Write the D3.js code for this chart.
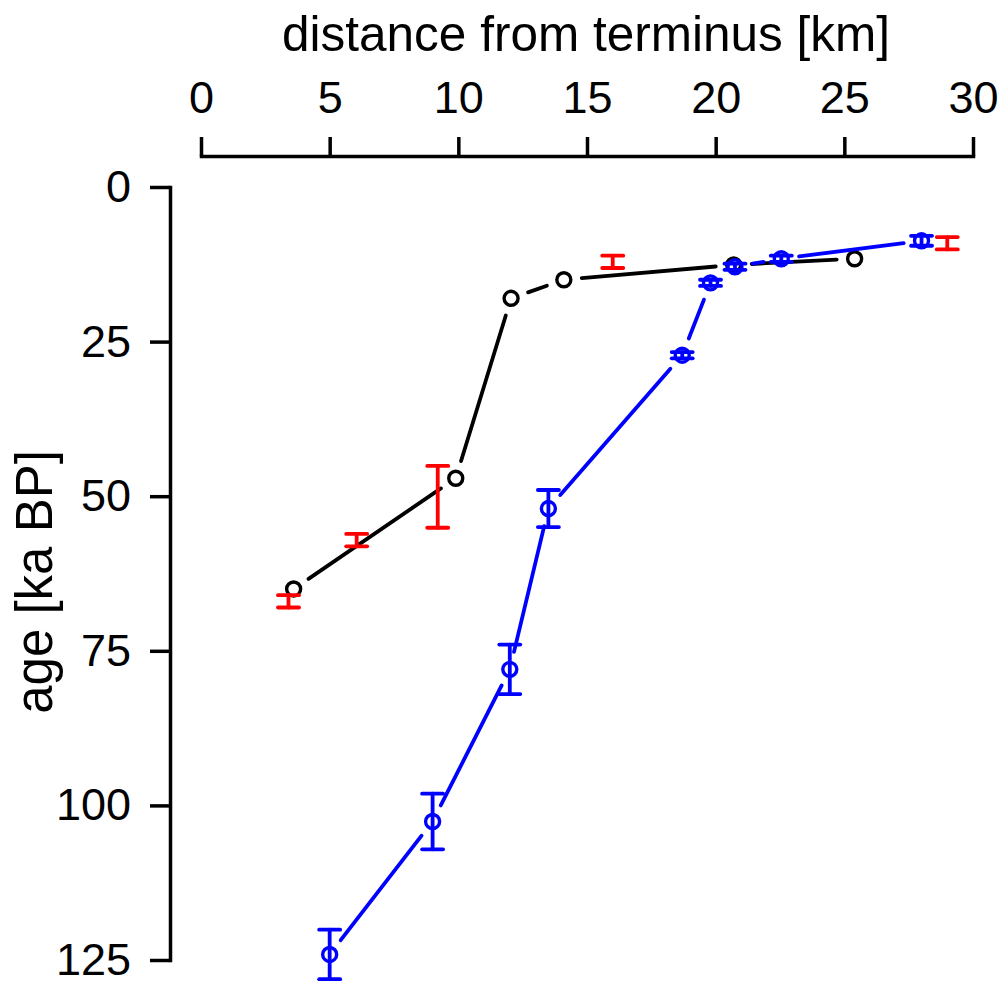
<!DOCTYPE html>
<html>
<head>
<meta charset="utf-8">
<script src="https://cdn.jsdelivr.net/npm/d3@7"></script>
<style>
  html, body { margin: 0; padding: 0; background: #fff; }
  svg { display: block; font-family: "Liberation Sans", Arial, sans-serif; }
</style>
</head>
<body>
<svg id="chart" width="1000" height="981"></svg>
<script>
// Moraine / terrace ages against distance from the glacier terminus
const xTicks = [0, 5, 10, 15, 20, 25, 30];
const yTicks = [0, 25, 50, 75, 100, 125];

// Black series: open circles joined by a line
const blackDist = [3.6, 9.9, 12.05, 14.1, 20.7, 25.4];
const blackAge  = [65.0, 47.1, 18.0, 15.0, 12.6, 11.6];

// Blue series: open circles with error bars joined by a line
const blueDist = [5.0, 9.0, 12.0, 13.5, 18.7, 19.8, 20.75, 22.55, 28.0];
const blueAge  = [124.1, 102.6, 78.0, 52.0, 27.2, 15.5, 12.9, 11.6, 8.7];
const blueErr  = [4.0, 4.5, 4.0, 3.0, 0.5, 0.5, 0.5, 0.5, 0.8];

// Red error bars without a point marker
const redDist = [3.4, 6.05, 9.2, 16.0, 29.0];
const redAge  = [67.0, 57.1, 50.1, 12.1, 9.1];
const redErr  = [1.0, 1.0, 5.0, 1.0, 1.0];

const svg = d3.select("#chart");

const x = d3.scaleLinear().domain([0, 30]).range([201, 973]);
const y = d3.scaleLinear().domain([0, 125]).range([187, 960]);

const LW = 3.8;   // data lines and error bars
const AW = 3.5;   // axis lines
const R = 7;
const CW = 3.4;   // circle outline
const GAP = 18;   // line stops short of each marker
const CAP = 10.5; // half-width of error bar caps

// x axis on top
const gx = svg.append("g")
  .attr("transform", "translate(0,156)")
  .call(d3.axisTop(x).tickValues(xTicks).tickSize(19).tickSizeOuter(0).tickPadding(24).tickFormat(d3.format("d")));
// y axis on left
const gy = svg.append("g")
  .attr("transform", "translate(170,0)")
  .call(d3.axisLeft(y).tickValues(yTicks).tickSize(20).tickSizeOuter(0).tickPadding(19).tickFormat(d3.format("d")));

[gx, gy].forEach(g => {
  g.select(".domain").attr("stroke", "#000").attr("stroke-width", AW).attr("stroke-linecap", "square");
  g.selectAll(".tick line").attr("stroke", "#000").attr("stroke-width", AW);
  g.selectAll(".tick text").attr("fill", "#000").style("font-size", "45px")
    .style("font-family", '"Liberation Sans", Arial, sans-serif');
});

// axis titles
svg.append("text")
  .attr("x", 586).attr("y", 51)
  .attr("text-anchor", "middle")
  .style("font-size", "49.5px")
  .text("distance from terminus [km]");
svg.append("text")
  .attr("transform", "translate(52,582) rotate(-90)")
  .attr("text-anchor", "middle")
  .style("font-size", "51px")
  .text("age [ka BP]");

// line joining points with gaps around the markers (like type="b")
function gappedSegments(xs, ys) {
  const segs = [];
  for (let i = 0; i < xs.length - 1; i++) {
    const x0 = x(xs[i]), y0 = y(ys[i]), x1 = x(xs[i + 1]), y1 = y(ys[i + 1]);
    const d = Math.hypot(x1 - x0, y1 - y0);
    if (d <= 2 * GAP) continue;
    const ux = (x1 - x0) / d, uy = (y1 - y0) / d;
    segs.push([x0 + ux * GAP, y0 + uy * GAP, x1 - ux * GAP, y1 - uy * GAP]);
  }
  return segs;
}

function drawSeries(xs, ys, color) {
  const g = svg.append("g");
  g.selectAll("line.seg").data(gappedSegments(xs, ys)).join("line")
    .attr("class", "seg")
    .attr("x1", d => d[0]).attr("y1", d => d[1])
    .attr("x2", d => d[2]).attr("y2", d => d[3])
    .attr("stroke", color).attr("stroke-width", LW).attr("stroke-linecap", "round");
  g.selectAll("circle").data(xs.map((d, i) => [d, ys[i]])).join("circle")
    .attr("cx", d => x(d[0])).attr("cy", d => y(d[1])).attr("r", R)
    .attr("fill", "none").attr("stroke", color).attr("stroke-width", CW);
  return g;
}

function drawErrorBars(xs, ys, es, color) {
  const data = xs.map((d, i) => ({ x: d, y: ys[i], e: es[i] }));
  const g = svg.append("g").attr("stroke", color).attr("stroke-width", LW).attr("stroke-linecap", "round");
  g.selectAll("line.v").data(data).join("line").attr("class", "v")
    .attr("x1", d => x(d.x)).attr("x2", d => x(d.x))
    .attr("y1", d => y(d.y - d.e)).attr("y2", d => y(d.y + d.e));
  g.selectAll("line.top").data(data).join("line").attr("class", "top")
    .attr("x1", d => x(d.x) - CAP).attr("x2", d => x(d.x) + CAP)
    .attr("y1", d => y(d.y - d.e)).attr("y2", d => y(d.y - d.e));
  g.selectAll("line.bot").data(data).join("line").attr("class", "bot")
    .attr("x1", d => x(d.x) - CAP).attr("x2", d => x(d.x) + CAP)
    .attr("y1", d => y(d.y + d.e)).attr("y2", d => y(d.y + d.e));
}

drawSeries(blackDist, blackAge, "#000000");
drawSeries(blueDist, blueAge, "#0000ff");
drawErrorBars(blueDist, blueAge, blueErr, "#0000ff");
drawErrorBars(redDist, redAge, redErr, "#ff0000");
</script>
</body>
</html>
